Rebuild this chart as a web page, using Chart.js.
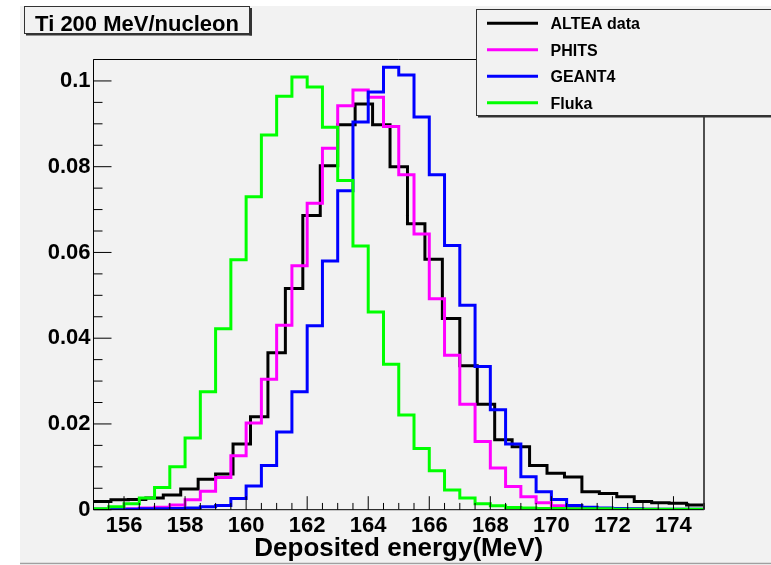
<!DOCTYPE html>
<html>
<head>
<meta charset="utf-8">
<script src="https://cdn.jsdelivr.net/npm/chart.js@4.4.1/dist/chart.umd.min.js"></script>
<style>
html,body{margin:0;padding:0;background:#ffffff;}
canvas{display:block;}
</style>
</head>
<body>
<canvas id="c" width="771" height="565"></canvas>
<script>
// ---- data ----
const X_MIN = 155;
const X_MAX = 175;
const ALTEA_NBINS = 35;   // measured data histogram: 35 bins over 155-175 MeV
const SIM_NBINS = 40;     // simulations: 40 bins of 0.5 MeV

const chartTitle = "Ti 200 MeV/nucleon";
const xAxisTitle = "Deposited energy(MeV)";
const seriesNames = ["ALTEA data", "PHITS", "GEANT4", "Fluka"];
const seriesColors = ["#000000", "#ff00ff", "#0000ff", "#00ff00"];

const xTickLabels = [156, 158, 160, 162, 164, 166, 168, 170, 172, 174];
const yTickLabels = [0, 0.02, 0.04, 0.06, 0.08, 0.1];

const alteaValues = [
  0.0019, 0.0023, 0.0024, 0.0027, 0.0034, 0.0048, 0.0071, 0.0083, 0.0153, 0.0217,
  0.0366, 0.0516, 0.0686, 0.0802, 0.0898, 0.0946, 0.0898, 0.0800, 0.0667, 0.0584,
  0.0446, 0.0336, 0.0246, 0.0163, 0.0147, 0.0103, 0.0085, 0.0076, 0.0042, 0.0038,
  0.0030, 0.0019, 0.0016, 0.0015, 0.0011
];
const phitsValues = [
  0.0001, 0.0001, 0.0002, 0.0004, 0.0006, 0.0011, 0.0023, 0.0043, 0.0075, 0.0126,
  0.0202, 0.0304, 0.0430, 0.0569, 0.0715, 0.0843, 0.0942, 0.0979, 0.0962, 0.0894,
  0.0781, 0.0643, 0.0492, 0.0360, 0.0246, 0.0159, 0.0097, 0.0054, 0.0030, 0.0016,
  0.0009, 0.0005, 0.0003, 0.0002, 0.0001, 0.0001, 0.0001, 0.0000, 0.0000, 0.0000
];
const geant4Values = [
  0.0001, 0.0001, 0.0001, 0.0002, 0.0002, 0.0003, 0.0004, 0.0007, 0.0010, 0.0026,
  0.0055, 0.0103, 0.0181, 0.0275, 0.0429, 0.0580, 0.0744, 0.0904, 0.0974, 0.1032,
  0.1014, 0.0916, 0.0781, 0.0616, 0.0477, 0.0334, 0.0233, 0.0153, 0.0077, 0.0042,
  0.0024, 0.0010, 0.0006, 0.0004, 0.0003, 0.0002, 0.0001, 0.0001, 0.0001, 0.0001
];
const flukaValues = [
  0.0002, 0.0007, 0.0014, 0.0027, 0.0052, 0.0100, 0.0167, 0.0275, 0.0422, 0.0583,
  0.0730, 0.0874, 0.0964, 0.1009, 0.0986, 0.0892, 0.0768, 0.0615, 0.0461, 0.0339,
  0.0221, 0.0143, 0.0091, 0.0046, 0.0027, 0.0014, 0.0009, 0.0005, 0.0004, 0.0003,
  0.0003, 0.0002, 0.0002, 0.0002, 0.0001, 0.0001, 0.0001, 0.0001, 0.0001, 0.0001
];

// ---- helpers ----
function binEdges(nbins) {
  const e = [];
  for (let i = 0; i <= nbins; i++) e.push(X_MIN + (X_MAX - X_MIN) * i / nbins);
  return e;
}
function histPoints(values, nbins) {
  const edges = binEdges(nbins);
  const pts = values.map((v, i) => ({x: edges[i], y: v}));
  pts.push({x: edges[nbins], y: values[nbins - 1]});
  return pts;
}
function near(list, v) {
  return list.find(l => Math.abs(l - v) < 1e-6);
}

const FONT = "'Liberation Sans', Arial, Helvetica, sans-serif";

const rootStyle = {
  id: 'rootStyle',
  beforeDraw(chart) {
    const ctx = chart.ctx;
    ctx.save();
    ctx.fillStyle = '#ffffff';
    ctx.fillRect(0, 0, chart.width, chart.height);
    ctx.fillStyle = '#f2f2f2';
    ctx.fillRect(20, 6, chart.width - 20, 557);
    ctx.strokeStyle = '#a0a0a0';
    ctx.lineWidth = 1.5;
    ctx.beginPath();
    ctx.moveTo(20, 563.5);
    ctx.lineTo(chart.width, 563.5);
    ctx.stroke();
    ctx.restore();
  },
  afterDatasetsDraw(chart) {
    const ctx = chart.ctx;
    const a = chart.chartArea;
    const xs = chart.scales.x, ys = chart.scales.y;
    ctx.save();
    // frame
    ctx.strokeStyle = '#000000';
    ctx.lineWidth = 1;
    ctx.beginPath();
    ctx.moveTo(a.left, a.top); ctx.lineTo(a.right, a.top);
    ctx.moveTo(a.left, a.bottom); ctx.lineTo(a.right, a.bottom);
    ctx.moveTo(a.left, a.bottom); ctx.lineTo(a.left, a.top);
    ctx.stroke();
    ctx.strokeStyle = '#505050';
    ctx.lineWidth = 2;
    ctx.beginPath();
    ctx.moveTo(a.right, a.top); ctx.lineTo(a.right, a.bottom);
    ctx.stroke();
    // ticks (inward, ROOT style)
    ctx.strokeStyle = '#000000';
    ctx.lineWidth = 1;
    ctx.beginPath();
    xs.ticks.forEach(t => {
      const px = xs.getPixelForValue(t.value);
      const len = near(xTickLabels, t.value) !== undefined ? 13.5 : 6.75;
      ctx.moveTo(px, a.bottom); ctx.lineTo(px, a.bottom - len);
    });
    ys.ticks.forEach(t => {
      const py = ys.getPixelForValue(t.value);
      const len = near(yTickLabels, t.value) !== undefined ? 18 : 9;
      ctx.moveTo(a.left, py); ctx.lineTo(a.left + len, py);
    });
    ctx.stroke();

    // title box
    ctx.fillStyle = '#f2f2f2';
    ctx.fillRect(24.5, 6.5, 225, 27);
    ctx.fillStyle = '#333333';
    ctx.fillRect(26, 33.5, 226, 2);
    ctx.fillRect(249.5, 8, 2.5, 27.5);
    ctx.strokeStyle = '#333333';
    ctx.lineWidth = 1;
    ctx.strokeRect(24.5, 6.5, 225, 27);
    ctx.fillStyle = '#000000';
    ctx.font = 'bold 22px ' + FONT;
    ctx.textAlign = 'center';
    ctx.textBaseline = 'alphabetic';
    ctx.fillText(chartTitle, 137, 31);

    // legend
    ctx.fillStyle = '#f2f2f2';
    ctx.fillRect(476.5, 9.5, 320, 106);
    ctx.fillStyle = '#333333';
    ctx.fillRect(478, 115.5, 320, 2);
    ctx.strokeStyle = '#333333';
    ctx.lineWidth = 1;
    ctx.strokeRect(476.5, 9.5, 320, 106);
    ctx.font = 'bold 16px ' + FONT;
    ctx.textAlign = 'left';
    chart.data.datasets.forEach((ds, i) => {
      const ly = 23.3 + i * 26.5;
      ctx.strokeStyle = ds.borderColor;
      ctx.lineWidth = 3;
      ctx.beginPath();
      ctx.moveTo(487, ly); ctx.lineTo(538, ly);
      ctx.stroke();
      ctx.fillStyle = '#000000';
      ctx.fillText(ds.label, 550.5, ly + 6);
    });
    ctx.restore();
  }
};

const allValues = [alteaValues, phitsValues, geant4Values, flukaValues];
const allBins = [ALTEA_NBINS, SIM_NBINS, SIM_NBINS, SIM_NBINS];

new Chart(document.getElementById('c'), {
  type: 'line',
  data: {
    datasets: seriesNames.map((name, i) => ({
      label: name,
      data: histPoints(allValues[i], allBins[i]),
      borderColor: seriesColors[i],
      backgroundColor: seriesColors[i],
      borderWidth: 3,
      pointRadius: 0,
      stepped: 'before',
      fill: false,
      order: 4 - i
    }))
  },
  options: {
    responsive: false,
    animation: false,
    devicePixelRatio: 1,
    events: [],
    layout: {padding: {left: 0, top: 59.5, right: 67, bottom: 0}},
    plugins: {legend: {display: false}, tooltip: {enabled: false}, title: {display: false}},
    scales: {
      x: {
        type: 'linear',
        min: X_MIN,
        max: X_MAX,
        grid: {display: false, drawTicks: false, tickLength: 0},
        border: {display: false},
        ticks: {
          stepSize: 0.5,
          autoSkip: false,
          maxRotation: 0,
          minRotation: 0,
          padding: 3,
          color: '#000000',
          font: {family: FONT, size: 22, weight: 'bold'},
          callback: (v) => { const l = near(xTickLabels, v); return l !== undefined ? String(l) : ''; }
        },
        title: {
          display: true,
          text: xAxisTitle,
          color: '#000000',
          font: {family: FONT, size: 26, weight: 'bold'},
          padding: {top: 0, bottom: 1}
        },
        afterFit: (s) => { s.height = 55.3; }
      },
      y: {
        type: 'linear',
        min: 0,
        max: 0.105,
        grid: {display: false, drawTicks: false, tickLength: 0},
        border: {display: false},
        ticks: {
          stepSize: 0.005,
          autoSkip: false,
          padding: 3,
          color: '#000000',
          font: {family: FONT, size: 22, weight: 'bold'},
          callback: (v) => { const l = near(yTickLabels, v); return l !== undefined ? String(l) : ''; }
        },
        afterFit: (s) => { s.width = 93.5; }
      }
    }
  },
  plugins: [rootStyle]
});
</script>
</body>
</html>
